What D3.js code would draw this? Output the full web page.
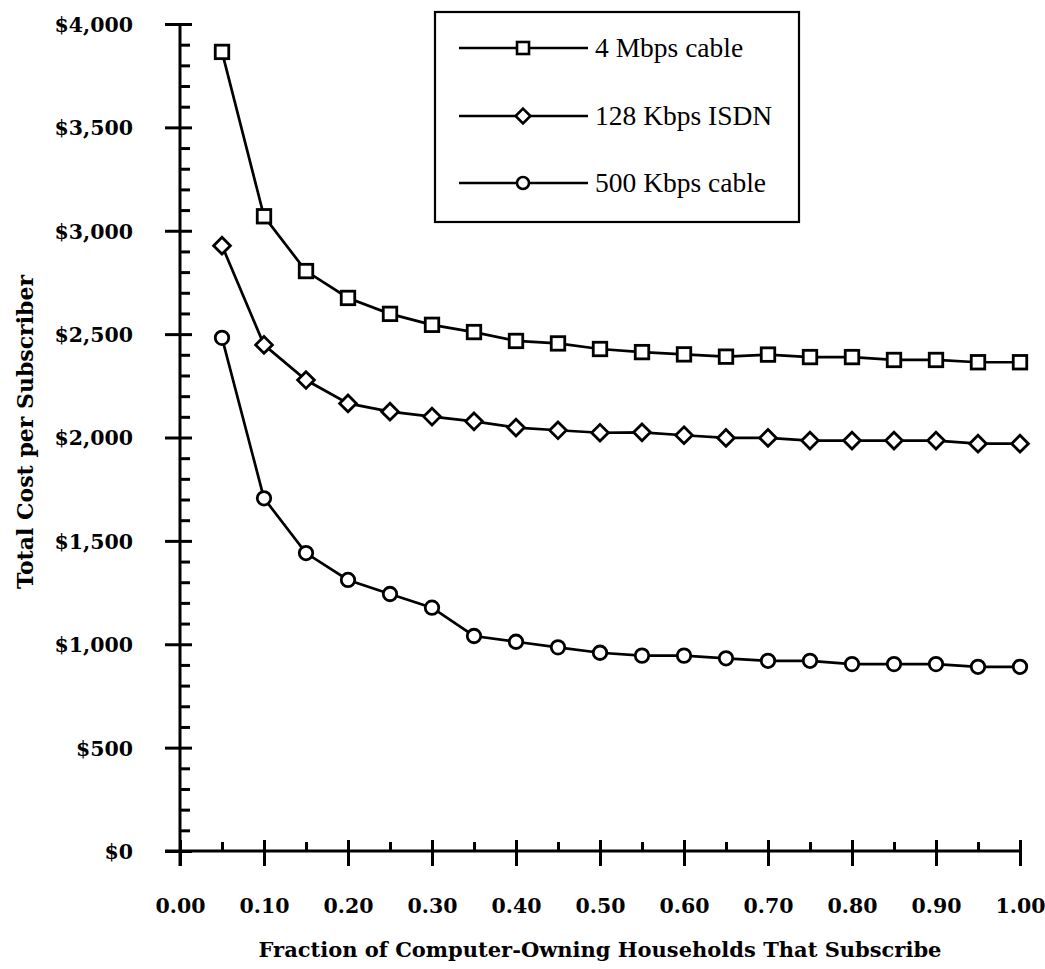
<!DOCTYPE html>
<html><head><meta charset="utf-8">
<script src="https://cdn.jsdelivr.net/npm/d3@7"></script>
<style>body{margin:0;background:#fff}</style>
</head><body>
<svg id="c" width="1045" height="969"></svg>
<script>
const fractions = [0.05,0.10,0.15,0.20,0.25,0.30,0.35,0.40,0.45,0.50,0.55,0.60,0.65,0.70,0.75,0.80,0.85,0.90,0.95,1.00];
const cable4M = [3865,3070,2805,2675,2598,2545,2510,2467,2455,2428,2413,2402,2391,2401,2389,2389,2375,2375,2364,2364];
const isdn128K = [2928,2448,2278,2165,2125,2101,2078,2048,2035,2023,2025,2011,1998,1998,1985,1985,1985,1985,1970,1970];
const cable500K = [2482,1706,1441,1311,1243,1177,1040,1012,985,959,945,945,932,920,920,904,904,904,891,891];
const seriesNames = ["4 Mbps cable","128 Kbps ISDN","500 Kbps cable"];
const seriesMarkers = ["square","diamond","circle"];
const yMajor = [0,500,1000,1500,2000,2500,3000,3500,4000];
const xMajor = [0,0.1,0.2,0.3,0.4,0.5,0.6,0.7,0.8,0.9,1.0];
const xTitle = "Fraction of Computer-Owning Households That Subscribe";
const yTitle = "Total Cost per Subscriber";

const svg = d3.select("#c");
const x = d3.scaleLinear().domain([0,1]).range([180,1020]);
const y = d3.scaleLinear().domain([0,4000]).range([851,24]);
const boldFont = "'DejaVu Serif', serif";
const regFont = "'Liberation Serif', 'Times New Roman', serif";

// Y axis
const yMinor = d3.range(0,4001,100).filter(v=>v%500!==0);
const gy = svg.append("g").attr("transform","translate(180,0)");
gy.call(d3.axisLeft(y).tickValues(yMajor).tickSize(15).tickPadding(32).tickFormat(d=>"$"+d3.format(",")(d)));
gy.append("g").call(d3.axisRight(y).tickValues(yMajor).tickSize(12).tickFormat(""));
gy.append("g").call(d3.axisRight(y).tickValues(yMinor).tickSize(10).tickFormat(""));
gy.selectAll(".domain").remove();
gy.append("line").attr("x1",0).attr("x2",0).attr("y1",24).attr("y2",866);
gy.selectAll("line").attr("stroke","#000").attr("stroke-width",3);
gy.selectAll("text").attr("font-family",boldFont).attr("font-weight","bold").attr("font-size",20.5).attr("fill","#000").attr("dy","0.36em");

// X axis
const xMinor = d3.range(0.05,1,0.1);
const gx = svg.append("g").attr("transform","translate(0,851)");
gx.call(d3.axisBottom(x).tickValues(xMajor).tickSize(15).tickPadding(32).tickFormat(d3.format(".2f")));
gx.append("g").call(d3.axisTop(x).tickValues(xMajor).tickSize(11).tickFormat(""));
gx.append("g").call(d3.axisTop(x).tickValues(xMinor).tickSize(9).tickFormat(""));
gx.selectAll(".domain").remove();
gx.append("line").attr("x1",165).attr("x2",1020).attr("y1",0).attr("y2",0);
gx.selectAll("line").attr("stroke","#000").attr("stroke-width",3);
gx.selectAll("text").attr("font-family",boldFont).attr("font-weight","bold").attr("font-size",20.5).attr("fill","#000");

// Titles
svg.append("text").attr("x",600).attr("y",957).attr("text-anchor","middle")
  .attr("font-family",boldFont).attr("font-weight","bold").attr("font-size",21).text(xTitle);
svg.append("text").attr("transform","translate(33,432) rotate(-90)").attr("text-anchor","middle")
  .attr("font-family",boldFont).attr("font-weight","bold").attr("font-size",22).text(yTitle);

// Series
const allSeries = [cable4M, isdn128K, cable500K];
const line = d3.line().x(d=>x(d[0])).y(d=>y(d[1]));
function marker(g, type, cx, cy, s){
  if(type==="square"){
    g.append("rect").attr("x",cx-s/2).attr("y",cy-s/2).attr("width",s).attr("height",s);
  } else if(type==="diamond"){
    const r = s*0.62;
    g.append("path").attr("d",`M${cx},${cy-r}L${cx+r},${cy}L${cx},${cy+r}L${cx-r},${cy}Z`);
  } else {
    g.append("circle").attr("cx",cx).attr("cy",cy).attr("r",s/2);
  }
}
allSeries.forEach((vals,i)=>{
  const pts = fractions.map((f,j)=>[f,vals[j]]);
  svg.append("path").attr("d",line(pts)).attr("fill","none").attr("stroke","#000").attr("stroke-width",2.7);
  const g = svg.append("g").attr("fill","#fff").attr("stroke","#000").attr("stroke-width",2.8);
  pts.forEach(p=>marker(g, seriesMarkers[i], x(p[0]), y(p[1]), 13.5));
});

// Legend
const lg = svg.append("g");
lg.append("rect").attr("x",435).attr("y",12).attr("width",364).attr("height",210)
  .attr("fill","#fff").attr("stroke","#000").attr("stroke-width",2.2);
const rowY = [48,116,183];
seriesNames.forEach((name,i)=>{
  lg.append("line").attr("x1",459).attr("x2",588).attr("y1",rowY[i]).attr("y2",rowY[i]).attr("stroke","#000").attr("stroke-width",2.7);
  const g = lg.append("g").attr("fill","#fff").attr("stroke","#000").attr("stroke-width",2.6);
  marker(g, seriesMarkers[i], 523, rowY[i], 12);
  lg.append("text").attr("x",595).attr("y",rowY[i]+9).attr("font-family",regFont).attr("font-size",27.5).attr("fill","#000").text(name);
});
</script>
</body></html>
